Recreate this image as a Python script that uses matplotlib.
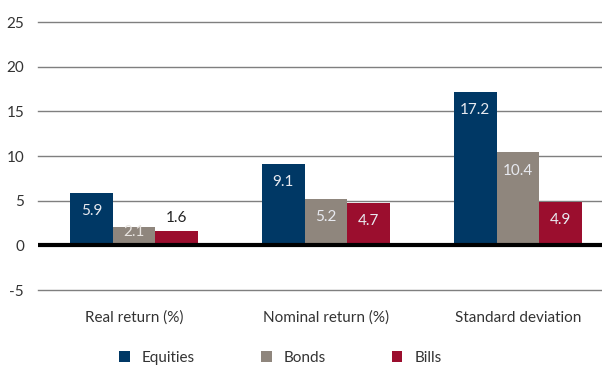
import matplotlib
matplotlib.use('Agg')
from matplotlib import pyplot as plt
import numpy as np

categories = ['Real return (%)', 'Nominal return (%)', 'Standard deviation']
series = ['Equities', 'Bonds', 'Bills']
equities = [5.9, 9.1, 17.2]
bonds = [2.1, 5.2, 10.4]
bills = [1.6, 4.7, 4.9]
colors = ['#003865', '#8f867d', '#9b0e2e']
yticks = [-5, 0, 5, 10, 15, 20, 25]

plt.rcParams['font.family'] = ['Lato', 'DejaVu Sans']

fig = plt.figure(figsize=(6.02, 3.68), dpi=100)
ax = fig.add_axes([38 / 602, 78 / 368, 564 / 602, 268 / 368])

x = np.arange(len(categories))
w = 0.222
for i, (vals, name) in enumerate(zip([equities, bonds, bills], series)):
    bars = ax.bar(x + (i - 1) * w, vals, w, color=colors[i], label=name, zorder=3)
    for b, v in zip(bars, vals):
        cx = b.get_x() + b.get_width() / 2
        if v < 2:
            ax.annotate(f'{v}', (cx, v), xytext=(0, 4), textcoords='offset points',
                        ha='center', va='bottom', fontsize=11, color='#222222', zorder=4)
        elif v < 3:
            ax.annotate(f'{v}', (cx, v), xytext=(0, 1), textcoords='offset points',
                        ha='center', va='top', fontsize=11, color='#e8e4e0', zorder=4)
        else:
            ax.annotate(f'{v}', (cx, v), xytext=(0, -8), textcoords='offset points',
                        ha='center', va='top', fontsize=11, color='#e8eaf0', zorder=4)

ax.set_xlim(-0.5, 2.4375)
ax.set_ylim(-5, 25)
ax.set_yticks(yticks)
ax.set_yticklabels([str(t) for t in yticks], fontsize=11, color='#333333')
ax.set_xticks(x)
ax.set_xticklabels(categories, fontsize=11, color='#333333')
ax.tick_params(axis='both', length=0)
ax.tick_params(axis='y', pad=10)
ax.tick_params(axis='x', pad=15)
for t in yticks:
    if t != 0:
        ax.axhline(t, color='#7f7f7f', lw=1.0, zorder=1, clip_on=False)
ax.axhline(0, color='black', lw=3, zorder=5)
for s in ax.spines.values():
    s.set_visible(False)

ax.legend(loc='center', bbox_to_anchor=(0.43, -0.254), ncol=3, frameon=False,
          fontsize=11, handlelength=0.7, handleheight=0.7, handletextpad=0.8,
          columnspacing=4.3, labelcolor='#333333')

fig.savefig('out.png', dpi=100)
